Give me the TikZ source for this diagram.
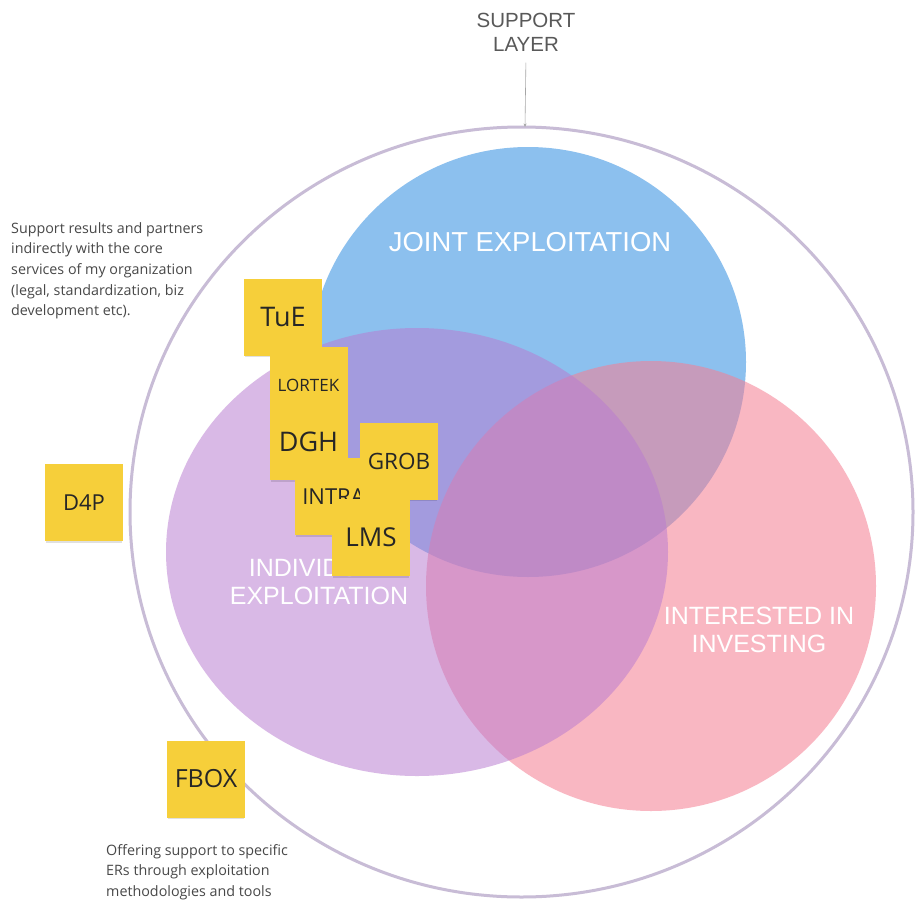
\documentclass[tikz,border=0pt]{standalone}
\usepackage{fontspec}
\setmainfont{Liberation Sans}
\newfontfamily\notefont{Open Sans}
\usetikzlibrary{shapes.geometric,shadows,arrows.meta}
\definecolor{blueC}{RGB}{140,192,238}
\definecolor{purpC}{RGB}{185,123,208}
\definecolor{pinkC}{RGB}{245,127,148}
\definecolor{ringC}{RGB}{200,188,214}
\definecolor{noteC}{RGB}{246,207,58}
\definecolor{sideC}{RGB}{72,72,72}
\begin{document}
\begin{tikzpicture}[x=1pt,y=-1pt,
  blob/.style={ellipse, inner sep=0pt, draw=none},
  note/.style={rectangle, fill=noteC, minimum width=78pt, minimum height=77pt, inner sep=0pt, text=black!85,
    drop shadow={shadow xshift=0pt, shadow yshift=-3pt, shadow scale=0.97, opacity=0.12, fill=black}},
  lab/.style={text=white, align=center, font=\fontsize{25}{28}\selectfont},
  side/.style={text=sideC, align=left, anchor=north west, inner sep=0pt, font=\notefont\fontsize{14.3}{20.7}\selectfont}
]
\useasboundingbox (0,0) rectangle (915,899);
\fill[white] (0,0) rectangle (915,899);

% outer support ring
\node[blob, draw=ringC, line width=3pt, minimum width=783pt, minimum height=770pt] (outer) at (521.5,512) {};

% three sets
\node[blob, fill=blueC, minimum width=436pt, minimum height=430pt] (joint) at (528,362) {};
\node[blob, fill=pinkC, fill opacity=0.56, minimum size=450pt] (invest) at (651,586) {};
\node[blob, fill=purpC, fill opacity=0.53, minimum width=502pt, minimum height=448pt] (indiv) at (417,552) {};

% set labels
\node[lab, font=\fontsize{27.4}{28}\selectfont] (jl) at (530,242) {JOINT EXPLOITATION};
\node[lab] (il) at (319,582) {INDIVIDUAL\\EXPLOITATION};
\node[lab] (nl) at (759,630) {INTERESTED IN\\INVESTING};

% support layer
\node[text=black!65, align=center, font=\fontsize{20.5}{24}\selectfont] (sup) at (526,32) {SUPPORT\\LAYER};
\coordinate (hit) at (525,127);
\draw[gray!70, line width=0.6pt, shorten <=8pt, -{Stealth[length=3.5pt,width=3pt]}] (sup.south) -- (hit);

% side texts
\node[side] (st1) at (11,222) {Support results and partners\\indirectly with the core\\services of my organization\\(legal, standardization, biz\\development etc).};
\node[side] (st2) at (106,844) {Offering support to specific\\ERs through exploitation\\methodologies and tools};

% sticky notes
\node[note, font=\notefont\fontsize{27}{27}\selectfont] (tue) at (283,317) {TuE};
\node[note, font=\notefont\fontsize{17}{17}\selectfont] (lortek) at (308.5,385.5) {LORTEK};
\node[note, font=\notefont\fontsize{27}{27}\selectfont] (dgh) at (308.5,441.5) {DGH};
\node[note, font=\notefont\fontsize{22}{22}\selectfont] (intra) at (333.5,496.5) {INTRA};
\node[note, font=\notefont\fontsize{22.5}{22.5}\selectfont] (grob) at (399,461) {GROB};
\node[note, font=\notefont\fontsize{26}{26}\selectfont] (lms) at (371,537.5) {LMS};
\node[note, font=\notefont\fontsize{22}{22}\selectfont] (d4p) at (84,502.5) {D4P};
\node[note, font=\notefont\fontsize{25}{25}\selectfont] (fbox) at (206,779) {FBOX};
\end{tikzpicture}
\end{document}
